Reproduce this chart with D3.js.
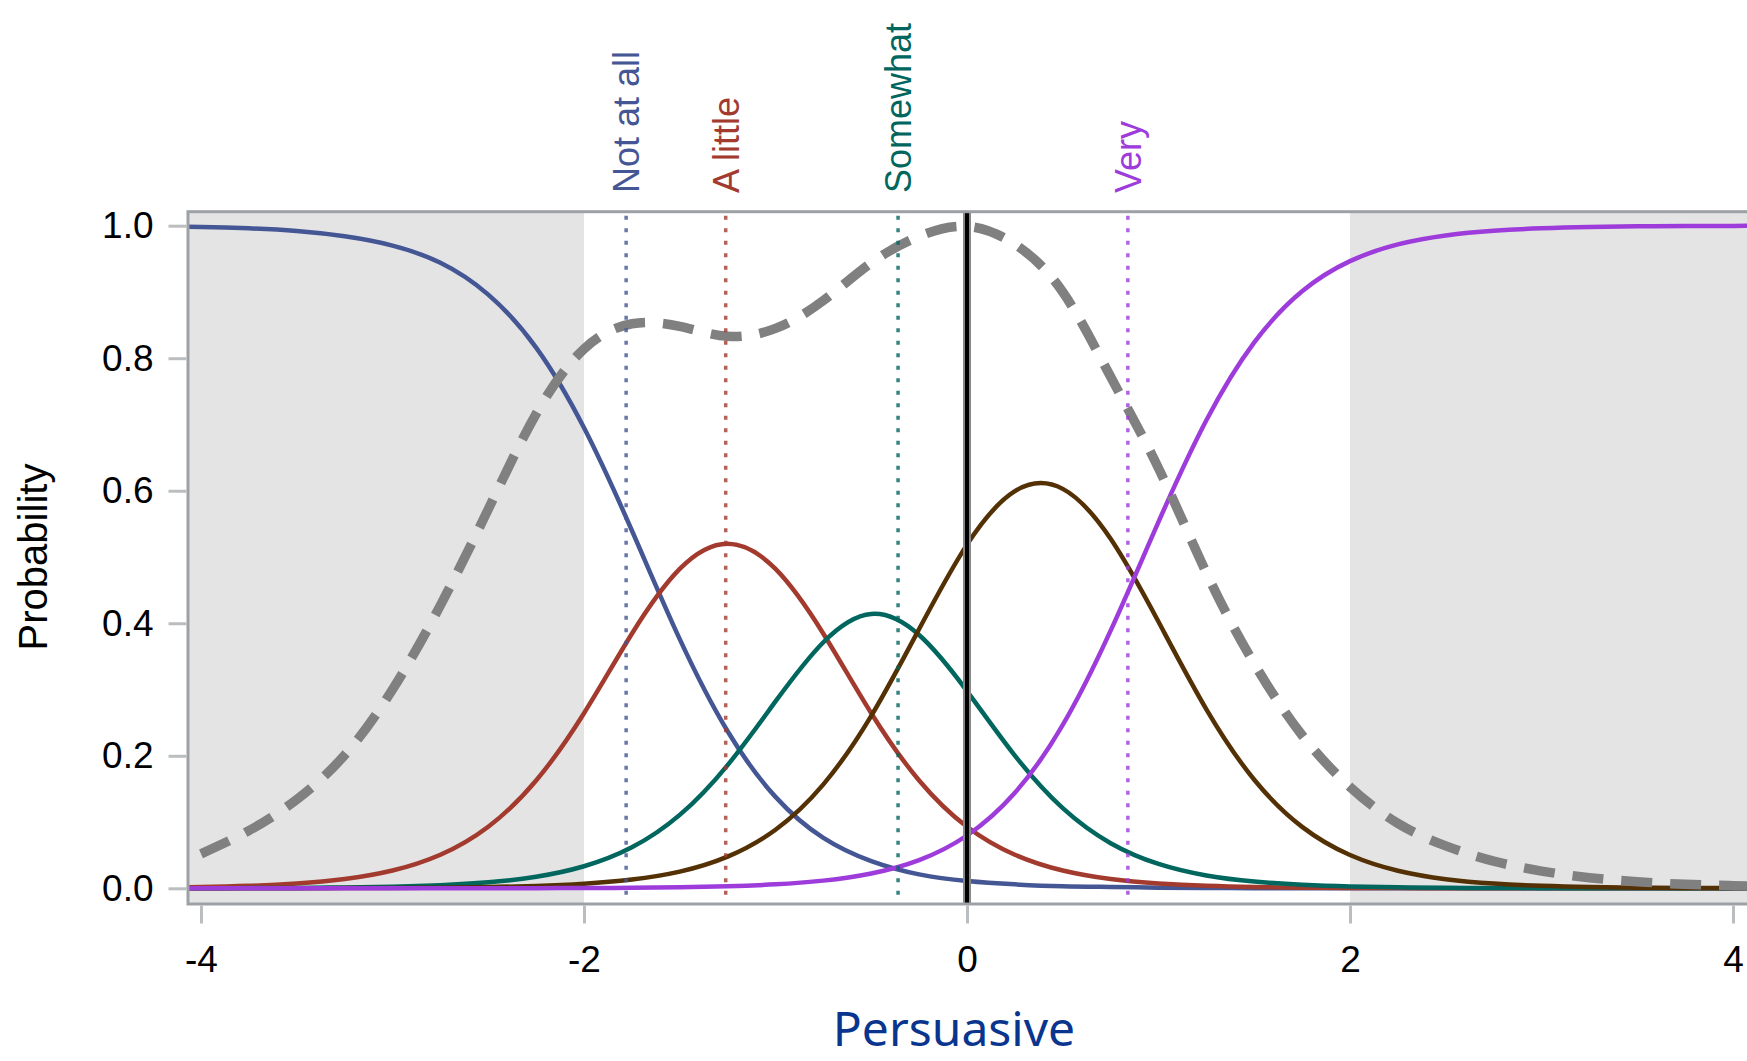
<!DOCTYPE html>
<html>
<head>
<meta charset="utf-8">
<script src="https://cdn.jsdelivr.net/npm/d3@7"></script>
<style>
  body { margin: 0; background: #fff; }
  svg { display: block; }
  .tick text { font-family: "Liberation Sans", Arial, sans-serif; font-size: 37px; fill: #000; }
</style>
</head>
<body>
<svg id="chart"></svg>
<script>
// theta grid shared by every series
const theta = [-4.25, -4, -3.75, -3.5, -3.25, -3, -2.75, -2.5, -2.25, -2, -1.75, -1.5, -1.25, -1, -0.75, -0.5, -0.25,
               0, 0.25, 0.5, 0.75, 1, 1.25, 1.5, 1.75, 2, 2.25, 2.5, 2.75, 3, 3.25, 3.5, 3.75, 4, 4.25];

// category probability curves
const notAtAll = [0.9989, 0.998, 0.996, 0.992, 0.984, 0.970, 0.944, 0.896, 0.816, 0.695, 0.540, 0.376, 0.237, 0.138, 0.076, 0.041, 0.021,
                  0.011, 0.006, 0.003, 0.002, 0.001, 0.0004, 0.0002, 0.0001, 0, 0, 0, 0, 0, 0, 0, 0, 0, 0];
const aLittle  = [0.0010, 0.0019, 0.0037, 0.0073, 0.0140, 0.0268, 0.0506, 0.0929, 0.1627, 0.2642, 0.3842, 0.482, 0.520, 0.482, 0.3842, 0.2642, 0.1627,
                  0.0929, 0.0506, 0.0268, 0.0140, 0.0073, 0.0037, 0.0019, 0.0010, 0.0005, 0.0003, 0.0001, 0, 0, 0, 0, 0, 0, 0];
const somewhat = [0.0001, 0.0002, 0.0003, 0.0006, 0.0013, 0.0024, 0.0047, 0.0091, 0.0175, 0.0333, 0.0619, 0.1108, 0.1860, 0.2820, 0.3714, 0.4140, 0.3822,
                  0.2977, 0.2003, 0.1209, 0.0681, 0.0368, 0.0194, 0.0102, 0.0053, 0.0027, 0.0014, 0.0007, 0.0004, 0.0002, 0.0001, 0, 0, 0, 0];
const cat4     = [0, 0, 0.0001, 0.0001, 0.0003, 0.0005, 0.0009, 0.0018, 0.0035, 0.0068, 0.0132, 0.0252, 0.0478, 0.0884, 0.1569, 0.2603, 0.3913,
                  0.5187, 0.5993, 0.6028, 0.5275, 0.4022, 0.2701, 0.1638, 0.0927, 0.0502, 0.0265, 0.0138, 0.0072, 0.0037, 0.0019, 0.0010, 0.0005, 0.0003, 0.0001];
const very     = [0, 0, 0, 0, 0, 0, 0.0001, 0.0001, 0.0002, 0.0004, 0.0008, 0.0016, 0.0031, 0.0060, 0.0116, 0.0224, 0.0426,
                  0.0797, 0.1441, 0.2466, 0.3889, 0.5530, 0.7064, 0.8239, 0.9010, 0.9465, 0.9718, 0.9853, 0.9924, 0.9961, 0.9980, 0.9990, 0.9995, 0.9997, 0.9999];
// scaled information (grey dashed)
const info     = [null, 0.052, 0.087, 0.134, 0.201, 0.300, 0.427, 0.572, 0.716, 0.814, 0.852, 0.848, 0.833, 0.845, 0.887, 0.944, 0.984,
                  0.999, 0.972, 0.900, 0.772, 0.634, 0.476, 0.339, 0.231, 0.153, 0.098, 0.064, 0.041, 0.026, 0.016, 0.010, 0.006, 0.004, 0.002];

// threshold markers along the top
const cutLabels = ["Not at all", "A little", "Somewhat", "Very"];
const cutValues = [-1.78, -1.26, -0.36, 0.84];

const xTicks = [-4, -2, 0, 2, 4];
const yTicks = [0, 0.2, 0.4, 0.6, 0.8, 1.0];

const W = 1747, H = 1061;
const frame = {left: 188, right: 1749, top: 211.7, bottom: 904};

const svg = d3.select("#chart").attr("width", W).attr("height", H);

const x = d3.scaleLinear().domain([-4, 4]).range([201, 1733]);
const y = d3.scaleLinear().domain([0, 1]).range([888.3, 225.7]);

const colors = {
    notAtAll: "#445694",
    aLittle: "#a23a2e",
    somewhat: "#01665e",
    cat4: "#543005",
    very: "#9d3cdb"
};

svg.append("defs").append("clipPath").attr("id", "plotClip")
  .append("rect")
    .attr("x", frame.left).attr("y", frame.top)
    .attr("width", frame.right - frame.left).attr("height", frame.bottom - frame.top);

const plot = svg.append("g").attr("clip-path", "url(#plotClip)");

// grey bands outside [-2, 2]
plot.append("rect")
    .attr("x", frame.left).attr("y", frame.top)
    .attr("width", x(-2) - frame.left).attr("height", frame.bottom - frame.top)
    .attr("fill", "#e4e4e4");
plot.append("rect")
    .attr("x", x(2)).attr("y", frame.top)
    .attr("width", frame.right - x(2)).attr("height", frame.bottom - frame.top)
    .attr("fill", "#e4e4e4");

const line = d3.line()
    .defined(d => d[1] != null)
    .x(d => x(d[0]))
    .y(d => y(d[1]))
    .curve(d3.curveNatural);

const series = [
    {key: "notAtAll", values: notAtAll},
    {key: "aLittle", values: aLittle},
    {key: "somewhat", values: somewhat},
    {key: "cat4", values: cat4},
    {key: "very", values: very}
];

plot.selectAll("path.curve")
  .data(series)
  .join("path")
    .attr("class", "curve")
    .attr("d", s => line(theta.map((t, i) => [t, s.values[i]])))
    .attr("fill", "none")
    .attr("stroke", s => colors[s.key])
    .attr("stroke-width", 4.5);

plot.append("path")
    .attr("d", line(theta.map((t, i) => [t, info[i]])))
    .attr("fill", "none")
    .attr("stroke", "#808080")
    .attr("stroke-width", 9.5)
    .attr("stroke-dasharray", "31,18");

// dotted threshold lines
const cutColors = [colors.notAtAll, colors.aLittle, colors.somewhat, colors.very];
plot.selectAll("line.cut")
  .data(cutValues)
  .join("line")
    .attr("class", "cut")
    .attr("x1", d => x(d)).attr("x2", d => x(d))
    .attr("y1", frame.top + 4).attr("y2", frame.bottom)
    .attr("stroke", (d, i) => cutColors[i])
    .attr("stroke-width", 3.5)
    .attr("stroke-dasharray", "4,8.5")
    .attr("opacity", 0.8);

// reference line at 0
plot.append("line")
    .attr("x1", x(0)).attr("x2", x(0)).attr("y1", frame.top).attr("y2", frame.bottom)
    .attr("stroke", "#888").attr("stroke-width", 8);
plot.append("line")
    .attr("x1", x(0)).attr("x2", x(0)).attr("y1", frame.top).attr("y2", frame.bottom)
    .attr("stroke", "#000").attr("stroke-width", 4);

// frame
svg.append("rect")
    .attr("x", frame.left).attr("y", frame.top)
    .attr("width", frame.right - frame.left).attr("height", frame.bottom - frame.top)
    .attr("fill", "none").attr("stroke", "#9da1a5").attr("stroke-width", 3);

// axes
const yAxis = svg.append("g")
    .attr("transform", `translate(${frame.left - 1.5},0)`)
    .call(d3.axisLeft(y).tickValues(yTicks).tickFormat(d3.format(".1f")).tickSize(18).tickPadding(15));
const xAxis = svg.append("g")
    .attr("transform", `translate(0,${frame.bottom + 1.5})`)
    .call(d3.axisBottom(x).tickValues(xTicks).tickFormat(d => String(d)).tickSize(18).tickPadding(22));

[yAxis, xAxis].forEach(g => {
    g.select(".domain").remove();
    g.selectAll(".tick line").attr("stroke", "#babec0").attr("stroke-width", 3);
});

// threshold labels
svg.selectAll("text.cutLabel")
  .data(cutValues)
  .join("text")
    .attr("class", "cutLabel")
    .attr("transform", d => `translate(${x(d)},193) rotate(-90)`)
    .attr("dy", "0.37em")
    .attr("font-family", "Liberation Sans, Arial, sans-serif")
    .attr("font-size", 36)
    .attr("fill", (d, i) => cutColors[i])
    .text((d, i) => cutLabels[i]);

// axis titles
svg.append("text")
    .attr("transform", "translate(47,557) rotate(-90)")
    .attr("text-anchor", "middle")
    .attr("font-family", "Liberation Sans, Arial, sans-serif")
    .attr("font-size", 40)
    .attr("fill", "#000")
    .text("Probability");

svg.append("text")
    .attr("x", 954).attr("y", 1046)
    .attr("text-anchor", "middle")
    .attr("font-family", "Noto Sans, sans-serif")
    .attr("font-size", 48)
    .attr("fill", "#0a358f")
    .text("Persuasive");
</script>
</body>
</html>
